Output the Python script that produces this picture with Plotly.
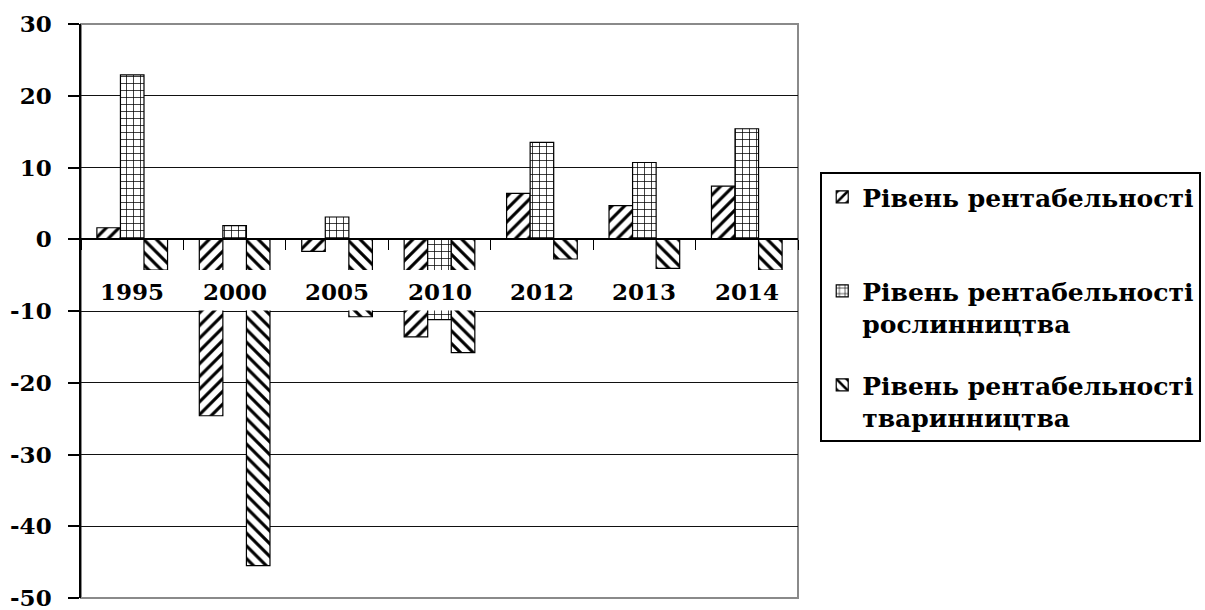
import plotly.graph_objects as go

categories = ["1995", "2000", "2005", "2010", "2012", "2013", "2014"]
series_names = [
    "Рівень рентабельності<br>\u00a0",
    "Рівень рентабельності<br>рослинництва",
    "Рівень рентабельності<br>тваринництва",
]
total = [1.6, -24.6, -1.7, -13.6, 6.4, 4.7, 7.4]
crops = [22.9, 1.9, 3.1, -11.2, 13.5, 10.7, 15.4]
livestock = [-4.3, -45.5, -10.8, -15.8, -2.75, -4.05, -4.3]
y_ticks = [30, 20, 10, 0, -10, -20, -30, -40, -50]

# category-label band (white box of the axis labels, as in the original chart)
LABEL_BAND = (-9.93, -4.29)
LABEL_Y = -7.3

FONT = "DejaVu Serif, Liberation Serif, serif"
shapes = ["/", "+", "\\"]
sizes = [9, 7, 9]
solid = [0.35, 0.2, 0.35]

fig = go.Figure()
for i, vals in enumerate([total, crops, livestock]):
    fig.add_trace(go.Bar(
        x=categories, y=vals, name=series_names[i],
        legendgroup=f"g{i}",
        marker=dict(
            color="white",
            line=dict(color="black", width=1.2),
            pattern=dict(shape=shapes[i], fgcolor="black", bgcolor="white",
                         size=sizes[i], solidity=solid[i], fillmode="replace"),
        ),
    ))

fig.update_layout(
    width=1205, height=610,
    margin=dict(l=81, r=407, t=24, b=12, autoexpand=False),
    paper_bgcolor="white", plot_bgcolor="white",
    barmode="group", bargap=0.31, bargroupgap=0,
    font=dict(family=FONT, color="black", size=23, weight="bold"),
    legend=dict(
        x=1.031, xanchor="left", y=0.742, yanchor="top",
        bordercolor="black", borderwidth=2, bgcolor="white",
        font=dict(family=FONT, size=25, color="black", weight="bold"),
        valign="top", tracegroupgap=26,
    ),
    showlegend=True,
)

fig.update_yaxes(
    range=[-50, 30], tickvals=y_ticks, ticktext=[str(v) for v in y_ticks],
    showgrid=True, gridcolor="#111", gridwidth=1,
    zeroline=True, zerolinecolor="black", zerolinewidth=1.5,
    showline=True, linecolor="black", linewidth=1.5,
    ticks="outside", ticklen=11, tickcolor="black", tickwidth=1.5,
    tickfont=dict(family=FONT, size=23, color="black", weight="bold"),
    ticklabelstandoff=12, ticklabeloverflow="allow", automargin=False,
)

fig.update_xaxes(
    type="category", anchor="free", position=0.625,
    categoryorder="array", categoryarray=categories,
    range=[-0.5, len(categories) - 0.5],
    showgrid=False, showline=True, linecolor="black", linewidth=1.5,
    ticks="outside", tickson="boundaries", ticklen=10, tickcolor="black", tickwidth=1.2,
    showticklabels=False, automargin=False,
)

fig.add_shape(type="rect", xref="paper", yref="paper", x0=0, x1=1, y0=0, y1=1,
              line=dict(color="#8a8a8a", width=2), layer="below")
fig.add_shape(type="rect", xref="paper", yref="y", x0=0.003, x1=0.997,
              y0=LABEL_BAND[0], y1=LABEL_BAND[1],
              fillcolor="white", line=dict(width=0), layer="above")

for idx, c in enumerate(categories):
    fig.add_annotation(x=idx, xref="x", y=LABEL_Y, yref="y", text=c, showarrow=False,
                       font=dict(family=FONT, size=23, color="black", weight="bold"))

fig.write_html("out.html", config={"displayModeBar": False},
               post_script="document.body.style.margin='0';document.body.style.padding='0';")
